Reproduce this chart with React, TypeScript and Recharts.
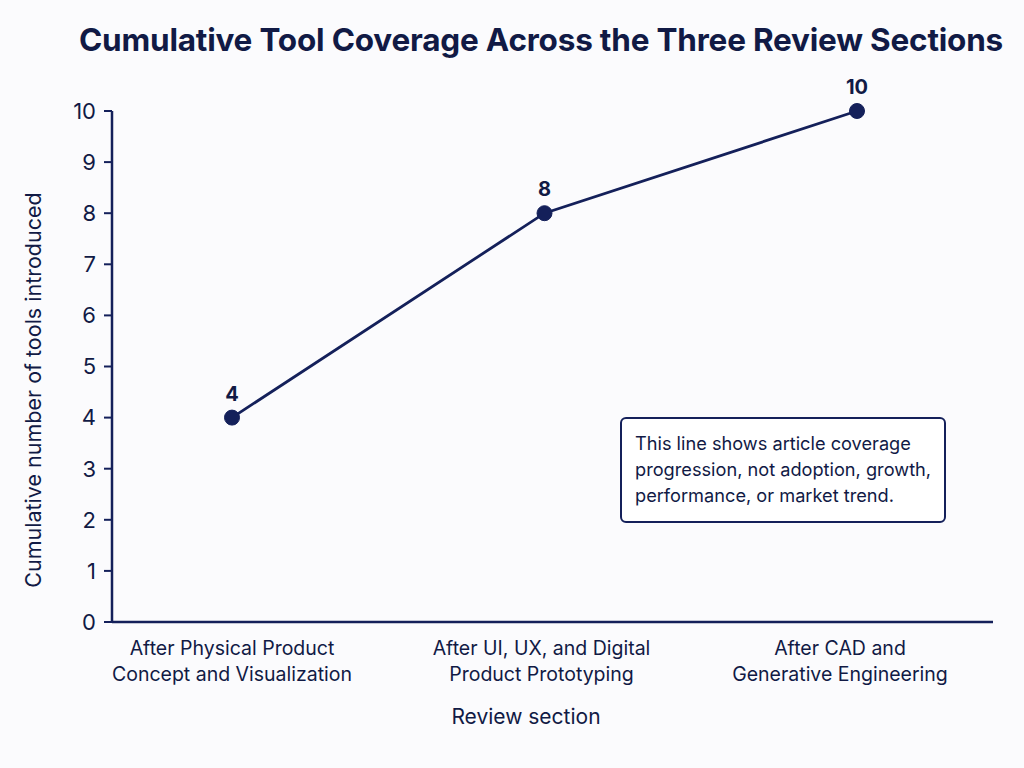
import { LineChart, Line, XAxis, YAxis, LabelList } from "recharts"

const sections = [
  "After Physical Product|Concept and Visualization",
  "After UI, UX, and Digital|Product Prototyping",
  "After CAD and|Generative Engineering",
]
const cumulativeTools = [4, 8, 10]
const yTicks = [0, 1, 2, 3, 4, 5, 6, 7, 8, 9, 10]

const data = sections.map((s, i) => ({ section: s, tools: cumulativeTools[i] }))

const navy = "#14205a"
const ink = "#111a45"
const font = "Inter, 'Noto Sans', sans-serif"

function SectionTick({ x, y, payload, index }: any) {
  const lines = String(payload.value).split("|")
  // the last label sits a little left of its point in the original
  const cx = x + (index === sections.length - 1 ? -17 : index === 1 ? -3 : 0)
  return (
    <text x={cx} y={y + 25} textAnchor="middle" fill={ink} fontSize={19.5} fontFamily={font}>
      {lines.map((l, i) => (
        <tspan key={i} x={cx} dy={i === 0 ? 0 : 26}>{l}</tspan>
      ))}
    </text>
  )
}

export default function App() {
  return (
    <div style={{ position: "relative", width: 1024, height: 768, background: "#fbfbfd", fontFamily: font }}>
      <style>{`body{margin:0}`}</style>
      <div style={{ position: "absolute", left: 0, top: 20, width: 1082, textAlign: "center", fontSize: 31.5, fontWeight: 700, color: ink, letterSpacing: -0.2 }}>
        Cumulative Tool Coverage Across the Three Review Sections
      </div>
      <LineChart width={1024} height={768} data={data} margin={{ top: 111, right: 31, left: 0, bottom: 0 }}>
        <XAxis
          dataKey="section"
          height={146}
          padding={{ left: 120, right: 136 }}
          axisLine={{ stroke: navy, strokeWidth: 2.5 }}
          tickLine={false}
          tick={<SectionTick />}
          interval={0}
        />
        <YAxis
          width={112}
          domain={[0, 10]}
          ticks={yTicks}
          interval={0}
          axisLine={{ stroke: navy, strokeWidth: 2.5 }}
          tickLine={{ stroke: navy, strokeWidth: 2 }}
          tickSize={8}
          tick={{ fill: ink, fontSize: 22, fontFamily: font, dx: -6 }}
        />
        <Line
          dataKey="tools"
          stroke={navy}
          strokeWidth={2.8}
          dot={{ r: 7.5, fill: navy, stroke: navy, strokeWidth: 1 }}
          isAnimationActive={false}
        >
          <LabelList dataKey="tools" position="top" offset={17} fill={ink} fontSize={20} fontWeight={700} fontFamily={font} />
        </Line>
      </LineChart>
      <div style={{ position: "absolute", left: 0, top: 704, width: 1052, textAlign: "center", fontSize: 21, color: ink }}>
        Review section
      </div>
      <div
        style={{
          position: "absolute",
          left: 33,
          top: 390,
          transform: "translate(-50%, -50%) rotate(-90deg)",
          whiteSpace: "nowrap",
          fontSize: 21.5,
          color: ink,
        }}
      >
        Cumulative number of tools introduced
      </div>
      <div
        style={{
          position: "absolute",
          left: 620,
          top: 417,
          width: 326,
          height: 106,
          boxSizing: "border-box",
          border: `2px solid ${navy}`,
          borderRadius: 6,
          background: "#ffffff",
          padding: "11px 13px",
          fontSize: 18.2,
          lineHeight: "26px",
          color: ink,
          whiteSpace: "nowrap",
        }}
      >
        This line shows article coverage
        <br />
        progression, not adoption, growth,
        <br />
        performance, or market trend.
      </div>
    </div>
  )
}
